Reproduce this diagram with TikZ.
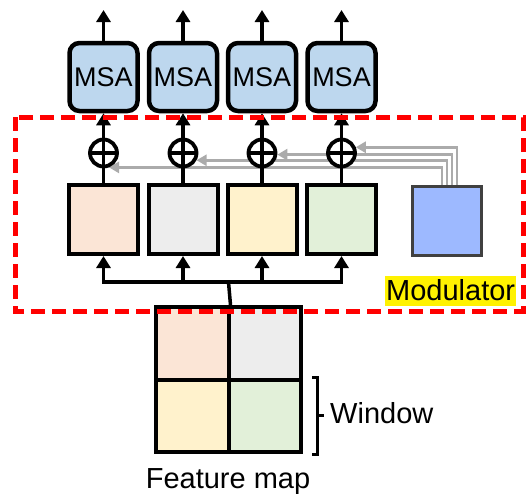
\documentclass[tikz,border=0pt]{standalone}
\usepackage{fontspec}
\setmainfont{Liberation Sans}
\usetikzlibrary{arrows.meta,backgrounds}
\definecolor{msablue}{HTML}{BDD7EE}
\definecolor{cpeach}{HTML}{FBE5D6}
\definecolor{cgrey}{HTML}{EDEDED}
\definecolor{cyell}{HTML}{FFF2CC}
\definecolor{cgreen}{HTML}{E2F0D9}
\definecolor{modblue}{HTML}{9DB9FF}
\definecolor{garrow}{HTML}{ABABAB}
\begin{document}
\begin{tikzpicture}[x=1pt,y=-1pt,
  msa/.style={draw, line width=4.5pt, rounded corners=10pt, fill=msablue, minimum width=68pt, minimum height=68pt, inner sep=0pt, font=\fontsize{27}{29}\selectfont},
  winbox/.style={draw, line width=4pt, minimum width=69pt, minimum height=69pt, inner sep=0pt},
  plus/.style={draw, circle, line width=3.8pt, fill=white, minimum size=27pt, inner sep=0pt,
    path picture={\draw[line width=3.5pt] (path picture bounding box.north) -- (path picture bounding box.south) (path picture bounding box.west) -- (path picture bounding box.east);}},
  cell/.style={draw, line width=4pt, minimum size=72.5pt, inner sep=0pt},
  blk/.style={line width=3.5pt},
  arr/.style={line width=3.5pt, -{Triangle[width=14pt,length=12pt]}},
  garr/.style={line width=2.8pt, draw=garrow, -{Triangle[width=11pt,length=10pt,fill=garrow]}},
  lbl/.style={font=\fontsize{29}{31}\selectfont, inner sep=0pt}
]
\useasboundingbox (0,0) rectangle (527,493);

\foreach \i/\x/\c in {1/103.5/cpeach,2/183/cgrey,3/262/cyell,4/341.5/cgreen}{
  \node[msa] (m\i) at (\x,77) {MSA};
  \node[plus] (p\i) at (\x,153) {};
  \node[winbox, fill=\c] (b\i) at (\x,219.5) {};
  \coordinate (o\i) at (\x,10);
}
\node[winbox, fill=modblue, draw=black!75, line width=3.5pt] (mod) at (447,221) {};

\node[cell, fill=cpeach] (f1) at (192.25,343.25) {};
\node[cell, fill=cgrey] (f2) at (264.75,343.25) {};
\node[cell, fill=cyell] (f3) at (192.25,415.75) {};
\node[cell, fill=cgreen] (f4) at (264.75,415.75) {};

\begin{scope}[on background layer]
  \draw[garr] ([xshift=-5pt]mod.north) |- (p1.-69);
  \draw[garr] (mod.north) |- (p2.-28);
  \draw[garr] ([xshift=5pt]mod.north) |- (p3.-6);
  \draw[garr] ([xshift=10pt]mod.north) |- (p4.22);
\end{scope}

\coordinate (split) at (228.5,282);
\draw[blk] (f1.north east) -- (split);
\draw[blk, line cap=rect] (b1.south |- split) -- (b4.south |- split);
\foreach \i in {1,2,3,4}{
  \draw[arr] (m\i.north) -- (o\i);
  \draw[arr] (p\i.north) -- (m\i.south);
  \draw[blk] (b\i.north) -- (p\i.south);
  \draw[arr] (b\i.south |- split) -- (b\i.south);
}

\draw[line width=3pt] ([xshift=9pt]f4.north east) -| ([xshift=14pt]f4.south east) -- ++(-5,0);
\draw[line width=3pt] ([xshift=14pt]f4.east) -- ++(7,0);

\node[lbl, anchor=base west] (win) at (330,423) {Window};
\node[lbl, anchor=base] (fm) at (228,488) {Feature map};
\node[lbl, fill=yellow, anchor=base west, text height=23pt, text depth=5pt, inner sep=1pt] (modlab) at (385,300) {Modulator};

\draw[red, line width=5pt, dash pattern=on 14pt off 7pt] (15,117) rectangle (523,311);
\end{tikzpicture}
\end{document}
